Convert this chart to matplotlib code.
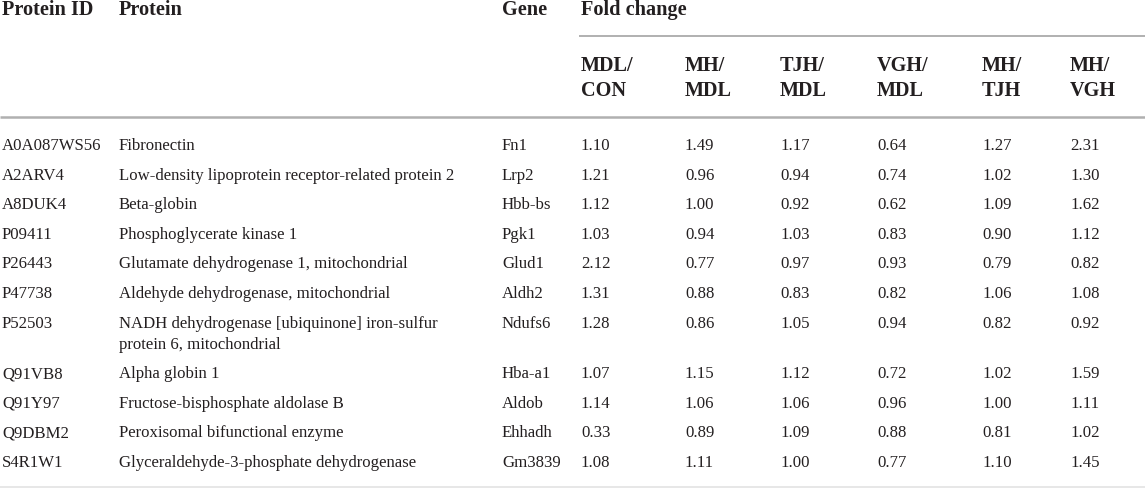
import matplotlib
matplotlib.use("Agg")
import matplotlib.pyplot as plt

plt.rcParams['font.family'] = ['Liberation Serif', 'DejaVu Serif']

# table content
protein_ids = ['A0A087WS56', 'A2ARV4', 'A8DUK4', 'P09411', 'P26443', 'P47738',
               'P52503', 'Q91VB8', 'Q91Y97', 'Q9DBM2', 'S4R1W1']
proteins = ['Fibronectin',
            'Low-density lipoprotein receptor-related protein 2',
            'Beta-globin',
            'Phosphoglycerate kinase 1',
            'Glutamate dehydrogenase 1, mitochondrial',
            'Aldehyde dehydrogenase, mitochondrial',
            'NADH dehydrogenase [ubiquinone] iron-sulfur\nprotein 6, mitochondrial',
            'Alpha globin 1',
            'Fructose-bisphosphate aldolase B',
            'Peroxisomal bifunctional enzyme',
            'Glyceraldehyde-3-phosphate dehydrogenase']
genes = ['Fn1', 'Lrp2', 'Hbb-bs', 'Pgk1', 'Glud1', 'Aldh2', 'Ndufs6',
         'Hba-a1', 'Aldob', 'Ehhadh', 'Gm3839']
ratio_labels = ['MDL/\nCON', 'MH/\nMDL', 'TJH/\nMDL', 'VGH/\nMDL', 'MH/\nTJH', 'MH/\nVGH']
mdl_con = [1.10, 1.21, 1.12, 1.03, 2.12, 1.31, 1.28, 1.07, 1.14, 0.33, 1.08]
mh_mdl = [1.49, 0.96, 1.00, 0.94, 0.77, 0.88, 0.86, 1.15, 1.06, 0.89, 1.11]
tjh_mdl = [1.17, 0.94, 0.92, 1.03, 0.97, 0.83, 1.05, 1.12, 1.06, 1.09, 1.00]
vgh_mdl = [0.64, 0.74, 0.62, 0.83, 0.93, 0.82, 0.94, 0.72, 0.96, 0.88, 0.77]
mh_tjh = [1.27, 1.02, 1.09, 0.90, 0.79, 1.06, 0.82, 1.02, 1.00, 0.81, 1.10]
mh_vgh = [2.31, 1.30, 1.62, 1.12, 0.82, 1.08, 0.92, 1.59, 1.11, 1.02, 1.45]
fold_cols = [mdl_con, mh_mdl, tjh_mdl, vgh_mdl, mh_tjh, mh_vgh]

W, H = 1145, 489
fig = plt.figure(figsize=(W / 100, H / 100), dpi=100)
ax = fig.add_axes([0, 0, 1, 1])
ax.set_xlim(0, W)
ax.set_ylim(H, 0)
ax.axis('off')

body = dict(fontsize=12.1, color='#231f20', va='center', ha='left')
head = dict(fontsize=14.6, color='#231f20', va='center', ha='left', fontweight='bold')

x_id, x_prot, x_gene = 2, 119, 502
x_fold = [581, 685, 780, 877, 982, 1070]

# header
ax.text(x_id, 10, 'Protein ID', **head)
ax.text(x_prot, 10, 'Protein', **head)
ax.text(x_gene, 10, 'Gene', **head)
ax.text(x_fold[0], 10, 'Fold change', **head)
for x, lab in zip(x_fold, ratio_labels):
    top, bottom = lab.split('\n')
    ax.text(x, 66, top, **head)
    ax.text(x, 91, bottom, **head)

ax.plot([579, W], [37, 37], color='#b0b0b0', lw=1.4, solid_capstyle='butt')
ax.plot([0, W], [117.5, 117.5], color='#b0b0b0', lw=1.8, solid_capstyle='butt')
ax.plot([0, W], [488, 488], color='#e3e3e3', lw=1.2, solid_capstyle='butt')

# body rows
y = 146
step = 29.6
for i in range(len(protein_ids)):
    lines = proteins[i].split('\n')
    ax.text(x_id, y, protein_ids[i], **body)
    for k, txt in enumerate(lines):
        ax.text(x_prot, y + 21 * k, txt, **body)
    ax.text(x_gene, y, genes[i], **body)
    for x, col in zip(x_fold, fold_cols):
        ax.text(x, y, f'{col[i]:.2f}', **body)
    y += step + 21 * (len(lines) - 1)

fig.savefig('out.png', dpi=100, facecolor='white')
